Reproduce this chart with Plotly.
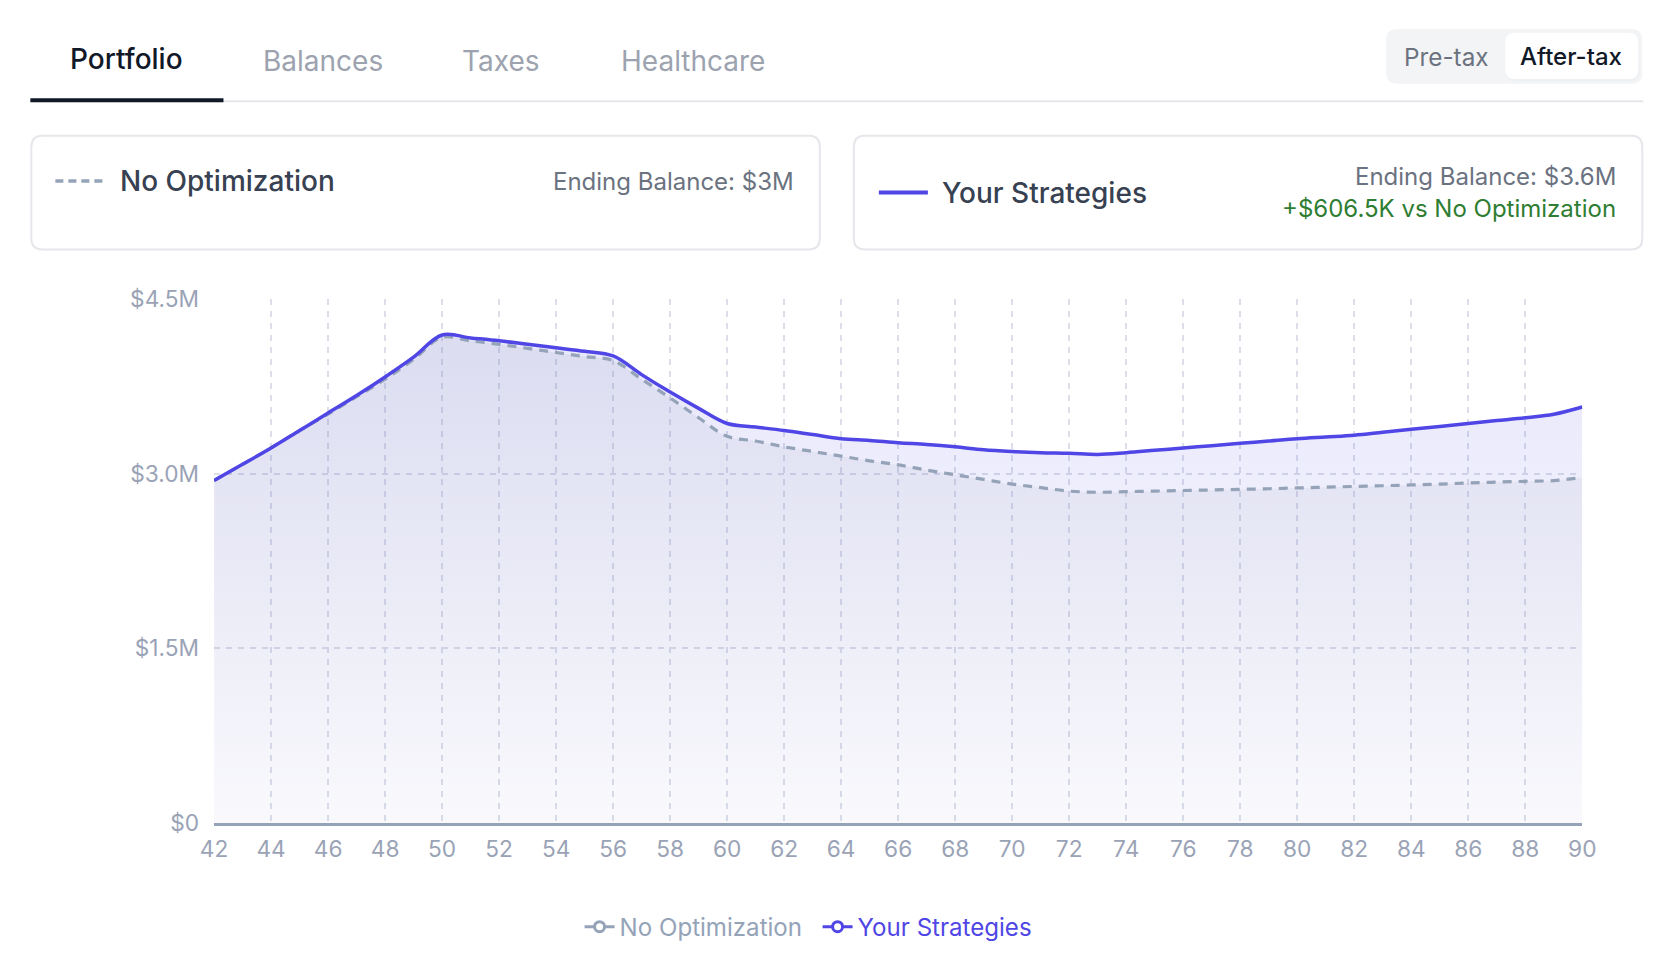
import plotly.graph_objects as go

W, H = 1666, 960
BODY_M = 8
# measured page->screen mapping of the photographing browser (screen = S*page + O)
SX, OX = 0.9826, 5.8
SY, OY = 0.9741, 5.27

ages = list(range(42, 91))
no_opt = [2.94, 3.08, 3.22, 3.37, 3.51, 3.66, 3.81, 3.98, 4.17, 4.14,
          4.11, 4.075, 4.04, 4.005, 3.97, 3.81, 3.65, 3.48, 3.32, 3.28,
          3.23, 3.19, 3.15, 3.11, 3.075, 3.03, 2.99, 2.95, 2.91, 2.88,
          2.85, 2.84, 2.845, 2.85, 2.855, 2.86, 2.865, 2.87, 2.877, 2.883,
          2.89, 2.896, 2.903, 2.91, 2.92, 2.927, 2.934, 2.94, 2.966]
strategies = [2.94, 3.08, 3.22, 3.37, 3.52, 3.67, 3.83, 4.00, 4.19, 4.165,
              4.14, 4.11, 4.08, 4.05, 4.01, 3.85, 3.70, 3.56, 3.43, 3.40,
              3.37, 3.335, 3.30, 3.285, 3.265, 3.25, 3.23, 3.205, 3.19, 3.18,
              3.175, 3.165, 3.18, 3.20, 3.22, 3.24, 3.26, 3.28, 3.30, 3.315,
              3.33, 3.355, 3.38, 3.405, 3.43, 3.455, 3.48, 3.51, 3.572]
no_opt_usd = [v * 1e6 for v in no_opt]
strat_usd = [v * 1e6 for v in strategies]

x_ticks = list(range(42, 91, 2))
y_ticks = [0, 1.5e6, 3.0e6, 4.5e6]
y_tick_labels = ["$0", "$1.5M", "$3.0M", "$4.5M"]

tabs = ["Portfolio", "Balances", "Taxes", "Healthcare"]
series_names = ["No Optimization", "Your Strategies"]

FONT = "Inter"
INDIGO = "#4f46e5"
SLATE = "#94a3b8"
SMOOTH = 1.0


def X(t):
    page = (t - OX) / SX
    return (page - BODY_M) / W


def Y(t):
    page = (t - OY) / SY
    return 1 - (page - BODY_M) / H


def rrect(x0, y0, x1, y1, r):
    return (f"M {X(x0 + r)},{Y(y0)} L {X(x1 - r)},{Y(y0)} "
            f"Q {X(x1)},{Y(y0)} {X(x1)},{Y(y0 + r)} L {X(x1)},{Y(y1 - r)} "
            f"Q {X(x1)},{Y(y1)} {X(x1 - r)},{Y(y1)} L {X(x0 + r)},{Y(y1)} "
            f"Q {X(x0)},{Y(y1)} {X(x0)},{Y(y1 - r)} L {X(x0)},{Y(y0 + r)} "
            f"Q {X(x0)},{Y(y0)} {X(x0 + r)},{Y(y0)} Z")


fig = go.Figure()

fig.add_trace(go.Scatter(
    x=ages, y=strat_usd, mode="lines", showlegend=False, hoverinfo="skip",
    line=dict(color="rgba(0,0,0,0)", width=0, shape="spline", smoothing=SMOOTH),
    fill="tozeroy",
    fillgradient=dict(type="vertical", start=0, stop=4.3e6,
                      colorscale=[[0, "rgba(79,70,229,0.015)"], [1, "rgba(79,70,229,0.13)"]]),
))
fig.add_trace(go.Scatter(
    x=ages, y=no_opt_usd, mode="lines", showlegend=False, hoverinfo="skip",
    line=dict(color=SLATE, width=3.2, dash="9px,7px", shape="spline", smoothing=SMOOTH),
    fill="tozeroy",
    fillgradient=dict(type="vertical", start=0, stop=4.3e6,
                      colorscale=[[0, "rgba(100,116,139,0.015)"], [1, "rgba(100,116,139,0.10)"]]),
))
fig.add_trace(go.Scatter(
    x=ages, y=strat_usd, mode="lines", showlegend=False,
    line=dict(color=INDIGO, width=3.5, shape="spline", smoothing=SMOOTH),
))

# legend-only entries
fig.add_trace(go.Scatter(
    x=[None], y=[None], mode="lines+markers", legendwidth=193,
    name=f'<span style="color:{SLATE}">{series_names[0]}</span>',
    line=dict(color=SLATE, width=3),
    marker=dict(symbol="circle", size=10, color="white", line=dict(color=SLATE, width=3)),
))
fig.add_trace(go.Scatter(
    x=[None], y=[None], mode="lines+markers",
    name=f'<span style="color:{INDIGO}">{series_names[1]}</span>',
    line=dict(color=INDIGO, width=3),
    marker=dict(symbol="circle", size=10, color="white", line=dict(color=INDIGO, width=3)),
))

shapes = []
annotations = []

# tab bar
shapes.append(dict(type="line", xref="paper", yref="paper", x0=X(30), x1=X(1642),
                   y0=Y(100.5), y1=Y(100.5), line=dict(color="#e5e7eb", width=2)))
shapes.append(dict(type="line", xref="paper", yref="paper", x0=X(30), x1=X(223),
                   y0=Y(99.5), y1=Y(99.5), line=dict(color="#111827", width=4)))
tab_x = [126.4, 322.5, 500.7, 692.2]
tab_y = [58.4, 60.0, 60.0, 60.0]
for i, t in enumerate(tabs):
    annotations.append(dict(
        x=X(tab_x[i]), y=Y(tab_y[i]), xref="paper", yref="paper", text=t, showarrow=False,
        xanchor="center", yanchor="middle",
        font=dict(family=FONT, size=28, weight=500 if i == 0 else 400,
                  color="#111827" if i == 0 else "#9ca3af")))

# toggle
shapes.append(dict(type="path", xref="paper", yref="paper", path=rrect(1385, 28, 1641, 83, 11),
                   fillcolor="#f3f4f6", line=dict(width=0), layer="below"))
shapes.append(dict(type="path", xref="paper", yref="paper", path=rrect(1504, 33, 1638, 80, 9),
                   fillcolor="#eceef1", line=dict(width=0), layer="below"))
shapes.append(dict(type="path", xref="paper", yref="paper", path=rrect(1504, 32, 1637, 78.5, 9),
                   fillcolor="white", line=dict(width=0), layer="below"))
annotations.append(dict(x=X(1445), y=Y(56.1), xref="paper", yref="paper", text="Pre-tax",
                        showarrow=False, xanchor="center", yanchor="middle",
                        font=dict(family=FONT, size=24.3, color="#6b7280")))
annotations.append(dict(x=X(1570), y=Y(56.1), xref="paper", yref="paper", text="After-tax",
                        showarrow=False, xanchor="center", yanchor="middle",
                        font=dict(family=FONT, size=24, weight=500, color="#111827")))

# cards
for (cx0, cx1) in [(31, 819), (853, 1641)]:
    shapes.append(dict(type="path", xref="paper", yref="paper", path=rrect(cx0, 135, cx1, 249, 11),
                       fillcolor="white", line=dict(color="#e5e7eb", width=2), layer="below"))

shapes.append(dict(type="line", xref="paper", yref="paper", x0=X(55), x1=X(105),
                   y0=Y(180.5), y1=Y(180.5), line=dict(color=SLATE, width=3.5, dash="8px,5px")))
annotations.append(dict(x=X(117.4), y=Y(180.3), xref="paper", yref="paper", text=series_names[0],
                        showarrow=False, xanchor="left", yanchor="middle",
                        font=dict(family=FONT, size=28, weight=500, color="#374151")))
annotations.append(dict(x=X(795.6), y=Y(181.3), xref="paper", yref="paper",
                        text="Ending Balance: $3M", showarrow=False,
                        xanchor="right", yanchor="middle",
                        font=dict(family=FONT, size=24, color="#6b7280")))

shapes.append(dict(type="line", xref="paper", yref="paper", x0=X(878), x1=X(927),
                   y0=Y(192), y1=Y(192), line=dict(color=INDIGO, width=4)))
annotations.append(dict(x=X(938.8), y=Y(192.3), xref="paper", yref="paper", text=series_names[1],
                        showarrow=False, xanchor="left", yanchor="middle",
                        font=dict(family=FONT, size=28, weight=500, color="#374151")))
annotations.append(dict(x=X(1617), y=Y(175.8), xref="paper", yref="paper",
                        text="Ending Balance: $3.6M", showarrow=False,
                        xanchor="right", yanchor="middle",
                        font=dict(family=FONT, size=24, color="#6b7280")))
annotations.append(dict(x=X(1617), y=Y(208.3), xref="paper", yref="paper",
                        text="+$606.5K vs No Optimization", showarrow=False,
                        xanchor="right", yanchor="middle",
                        font=dict(family=FONT, size=24, color="#2e7d32")))

fig.update_layout(
    width=W, height=H,
    margin=dict(l=0, r=0, t=0, b=0),
    paper_bgcolor="white", plot_bgcolor="rgba(0,0,0,0)",
    font=dict(family=FONT),
    shapes=shapes, annotations=annotations,
    legend=dict(orientation="h", x=X(578.9), y=Y(928.2), xanchor="left", yanchor="middle",
                font=dict(family=FONT, size=24.1, color=SLATE), bgcolor="rgba(0,0,0,0)",
                itemwidth=30, tracegroupgap=0),
    xaxis=dict(domain=[X(213.6), X(1581)], range=[42, 90], tickvals=x_ticks,
               showgrid=True, gridcolor="#dcdfe9", griddash="6px,6px", gridwidth=1.8,
               showline=True, linecolor=SLATE, linewidth=2.5, zeroline=False,
               tickfont=dict(family=FONT, size=22.7, color="#9aa3b6"),
               ticks="", ticklabelstandoff=4, fixedrange=True),
    yaxis=dict(domain=[Y(824), Y(298.6)], range=[0, 4.5e6], tickvals=y_ticks,
               ticktext=y_tick_labels, showgrid=True, gridcolor="#dcdfe9",
               griddash="6px,6px", gridwidth=1.8, showline=False, zeroline=False,
               tickfont=dict(family=FONT, size=22.7, color="#9aa3b6"),
               ticks="", ticklabelstandoff=14, fixedrange=True),
)

fig.write_html("out.html")
